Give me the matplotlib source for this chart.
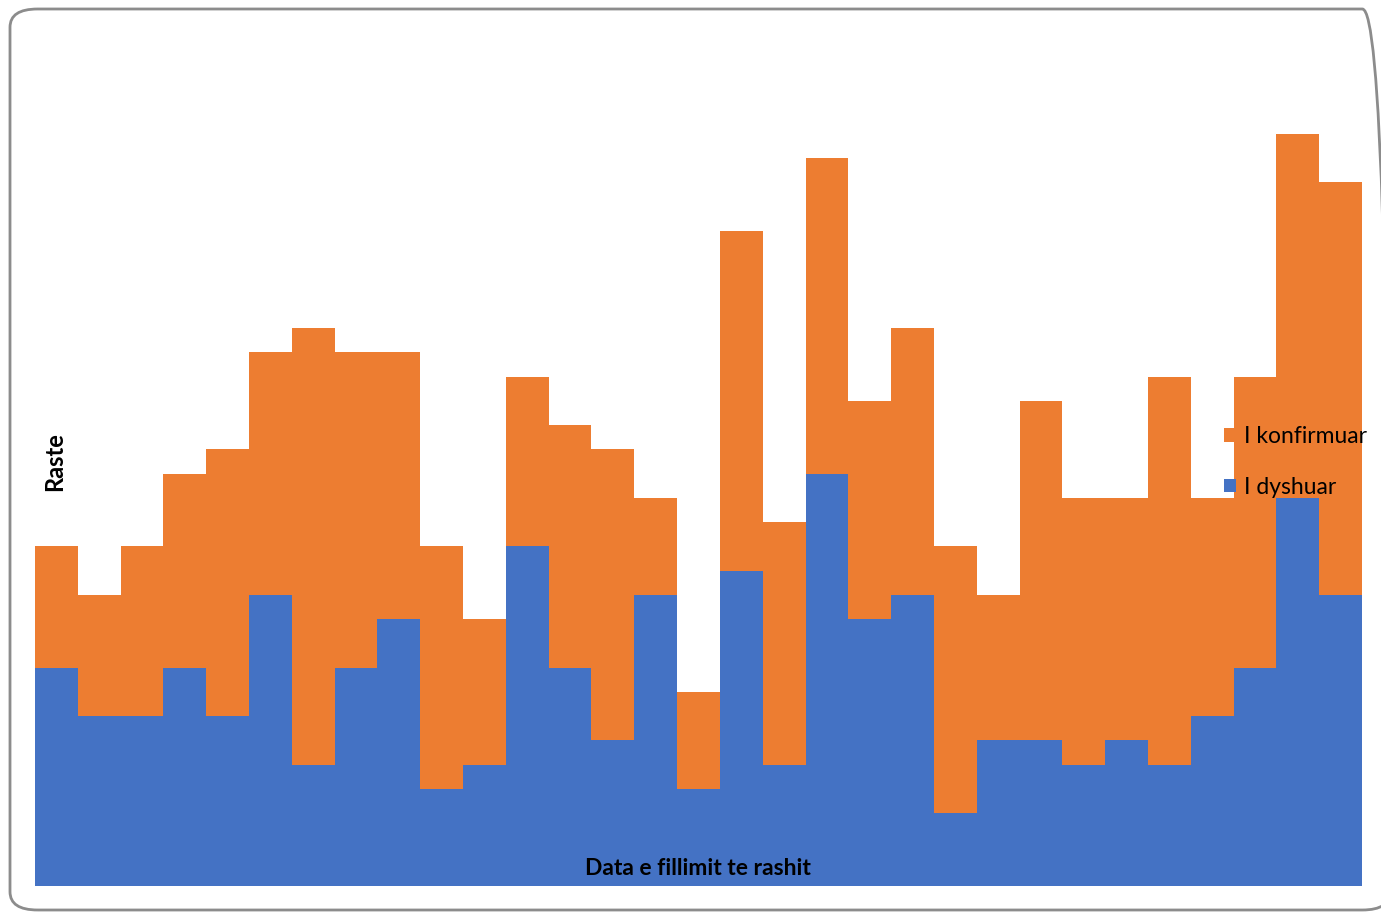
import matplotlib
matplotlib.use("Agg")
import matplotlib.pyplot as plt
from matplotlib.patches import FancyBboxPatch
import numpy as np

dyshuar = [9, 7, 7, 9, 7, 12, 5, 9, 11, 4, 5, 14, 9, 6, 12, 4, 13, 5, 17, 11, 12, 3, 6, 6, 5, 6, 5, 7, 9, 16, 12]
konfirmuar = [5, 5, 7, 8, 11, 10, 18, 13, 11, 10, 6, 7, 10, 12, 4, 4, 14, 10, 13, 9, 11, 11, 6, 14, 11, 10, 16, 9, 12, 15, 17]
labels = ["I dyshuar", "I konfirmuar"]

W, H = 1381, 913
plt.rcParams['font.family'] = ['Lato', 'DejaVu Sans']
fig = plt.figure(figsize=(W / 100, H / 100), dpi=100)

border = FancyBboxPatch((10 / W, 3 / H), 1380 / W, 901 / H,
                        boxstyle="round,pad=0,rounding_size=0.02",
                        transform=fig.transFigure, facecolor="none",
                        edgecolor="#8c8c8c", linewidth=2, zorder=-1)
fig.patches.append(border)

ax = fig.add_axes([35 / W, 27 / H, 1327 / W, 776.3 / H])
ax.set_facecolor("none")
x = np.arange(len(dyshuar))
b1 = ax.bar(x, dyshuar, width=1.0, color="#4472C4", linewidth=0, label=labels[0])
b2 = ax.bar(x, konfirmuar, bottom=dyshuar, width=1.0, color="#ED7D31", linewidth=0, label=labels[1])
ax.set_xlim(-0.5, len(dyshuar) - 0.5)
ax.set_ylim(0, 32)
for s in ax.spines.values():
    s.set_visible(False)
ax.set_xticks([])
ax.set_yticks([])

fig.text(55 / W, 1 - 462 / H, "Raste", rotation=90, ha="center", va="center",
         fontsize=17, fontweight="bold", zorder=10)
fig.text(698 / W, 1 - 868 / H, "Data e fillimit te rashit", ha="center", va="center",
         fontsize=16.5, fontweight="bold", zorder=10)

leg = fig.legend(handles=[b2, b1], labels=[labels[1], labels[0]],
                 loc="center left", bbox_to_anchor=(1203 / W, 1 - 462 / H),
                 frameon=False, fontsize=16.5, handlelength=0.55, handleheight=0.55,
                 handletextpad=0.35, labelspacing=1.28)
leg.set_zorder(10)

fig.savefig("out.png", dpi=100)
